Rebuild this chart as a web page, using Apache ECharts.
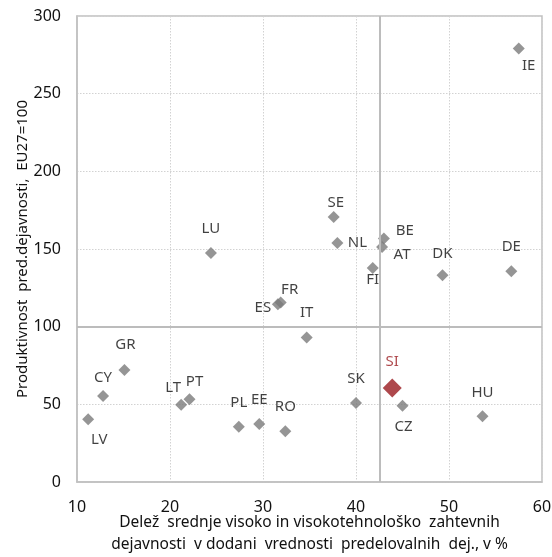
<!DOCTYPE html>
<html>
<head>
<meta charset="utf-8">
<script src="https://cdn.jsdelivr.net/npm/echarts@6/dist/echarts.min.js"></script>
<style>html,body{margin:0;padding:0;background:#fff;}#c{width:552px;height:557px;}</style>
</head>
<body>
<div id="c"></div>
<script>
const countries = ["LV","CY","GR","LT","PT","LU","PL","EE","ES","FR","RO","IT","SE","NL","SK","FI","AT","BE","CZ","DK","HU","DE","IE"];
const shareHighTech = [11.2,12.8,15.1,21.2,22.1,24.4,27.4,29.6,31.6,31.9,32.4,34.7,37.6,38.0,40.0,41.8,42.8,43.0,45.0,49.3,53.6,56.7,57.5];
const productivity = [40.4,55.4,72.1,49.8,53.2,147.5,35.6,37.3,114.4,115.5,32.6,93.0,170.6,153.9,50.9,137.8,151.3,156.7,49.1,133.1,42.3,135.7,279.0];
const siName = ["SI"];
const siShare = [43.9];
const siProductivity = [60.5];
const refShare = [42.5];
const refProductivity = [100];
const xTicks = [10,20,30,40,50,60];
const yTicks = [0,50,100,150,200,250,300];

// label placement (style)
const labelOffsets = {
  IE:[10,17], DE:[0,-24], DK:[0,-22], BE:[21,-8], AT:[20,8], FI:[0,12], NL:[20,0],
  SE:[2,-14], LU:[0,-24], FR:[9,-13], ES:[-15,3], IT:[0,-25], GR:[1,-25], CY:[0,-18],
  LV:[11,20], LT:[-8,-17], PT:[5,-18], PL:[0,-24], EE:[0,-24], RO:[0,-25], SK:[0,-24],
  CZ:[1,21], HU:[0,-24], SI:[0,-26]
};

const FONT = "Noto Sans";
const gray = "#7a7a7a";
const red = "#9a1a1f";
const txt = "#111";

const mainData = countries.map((c,i)=>({
  name:c, value:[shareHighTech[i], productivity[i]],
  label:{offset: labelOffsets[c] || [0,-24]}
}));
const siData = siName.map((c,i)=>({
  name:c, value:[siShare[i], siProductivity[i]],
  label:{offset: labelOffsets[c] || [0,-26]}
}));

const chart = echarts.init(document.getElementById('c'), null, {renderer:'canvas'});
chart.setOption({
  animation:false,
  backgroundColor:'#fff',
  grid:{left:77, right:10, top:16, bottom:75, show:true, borderColor:'#c0c0c0', borderWidth:1.5,
        containLabel:false, outerBoundsMode:'none'},
  xAxis:{
    type:'value', min:xTicks[0], max:xTicks[xTicks.length-1], interval:10,
    name:'Delež  srednje visoko in visokotehnološko  zahtevnih\ndejavnosti  v dodani  vrednosti  predelovalnih  dej., v %',
    nameLocation:'middle', nameGap:30, nameMoveOverlap:false,
    nameTextStyle:{fontFamily:FONT, fontSize:15.5, color:txt, lineHeight:22},
    axisLine:{show:true, lineStyle:{color:'#c0c0c0', width:1.5}},
    axisTick:{show:false},
    axisLabel:{fontFamily:FONT, fontSize:16, color:txt, margin:17},
    splitLine:{show:true, lineStyle:{color:'#d2d2d2', type:[1.5,1.5], width:1}}
  },
  yAxis:{
    type:'value', min:yTicks[0], max:yTicks[yTicks.length-1], interval:50,
    name:'Produktivnost  pred.dejavnosti,  EU27=100',
    nameLocation:'middle', nameGap:47, nameRotate:90, nameMoveOverlap:false,
    nameTextStyle:{fontFamily:FONT, fontSize:15, color:txt},
    axisLine:{show:true, lineStyle:{color:'#c0c0c0', width:1.5}},
    axisTick:{show:false},
    axisLabel:{fontFamily:FONT, fontSize:16, color:txt, margin:16},
    splitLine:{show:true, lineStyle:{color:'#d2d2d2', type:[1.5,1.5], width:1}}
  },
  series:[
    {
      type:'scatter', name:'EU', symbol:'diamond', symbolSize:12,
      itemStyle:{color:gray},
      data:mainData,
      label:{show:true, position:'inside', formatter:'{b}', fontFamily:FONT, fontSize:15, color:txt},
      markLine:{
        silent:true, symbol:['none','none'], animation:false,
        label:{show:false},
        lineStyle:{color:'#bcbcbc', width:2, type:'solid'},
        data:[{xAxis:refShare[0]},{yAxis:refProductivity[0]}]
      },
      z:3
    },
    {
      type:'scatter', name:'SI', symbol:'diamond', symbolSize:19,
      itemStyle:{color:red},
      data:siData,
      label:{show:true, position:'inside', formatter:'{b}', fontFamily:FONT, fontSize:15, color:red},
      z:4
    }
  ]
});
</script>
</body>
</html>
